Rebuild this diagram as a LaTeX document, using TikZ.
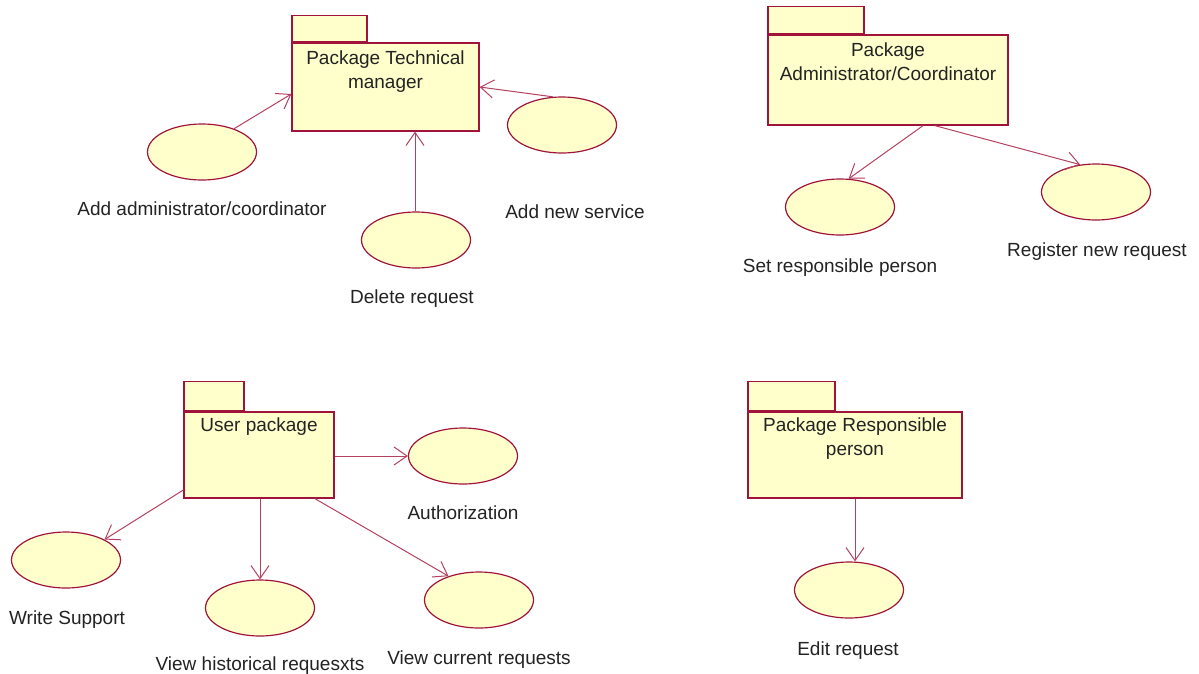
\documentclass[tikz,border=0pt]{standalone}
\usepackage{fontspec}
\setmainfont{Liberation Sans}
\usetikzlibrary{arrows.meta,shapes.geometric}
\definecolor{pkgfill}{RGB}{255,255,204}
\definecolor{pkgdraw}{RGB}{160,20,60}
\definecolor{arrowc}{RGB}{180,65,95}
\definecolor{txt}{RGB}{35,35,35}
\begin{document}
\begin{tikzpicture}[x=1pt,y=-1pt,
  font=\fontsize{19}{24}\selectfont,
  pkgbody/.style={rectangle, draw=pkgdraw, fill=pkgfill, line width=1.3pt, inner sep=0pt},
  pkgtab/.style={rectangle, draw=pkgdraw, fill=pkgfill, line width=1.3pt, inner sep=0pt, anchor=south west},
  usecase/.style={ellipse, draw=pkgdraw, fill=pkgfill, line width=1.2pt, minimum width=109pt, minimum height=56pt, inner sep=0pt},
  pkgtext/.style={text=txt, inner sep=0pt, align=center, anchor=north},
  lbl/.style={text=txt, inner sep=0pt, anchor=base},
  dep/.style={draw=arrowc, line width=1pt, -{Straight Barb[length=13pt,width=18pt,line width=1pt]}}
]
\fill[white] (0,0) rectangle (1199,673);
\useasboundingbox (0,0) rectangle (1199,673);

% Package Technical manager
\node[pkgbody, minimum width=187pt, minimum height=88pt] (tm) at (385.5,87) {};
\node[pkgtab, minimum width=75pt, minimum height=26pt] (tmtab) at (tm.north west) {};
\node[pkgtext] (tmt) at (385.5,51) {Package Technical\\manager};

% Package Administrator/Coordinator
\node[pkgbody, minimum width=240pt, minimum height=90pt] (ac) at (888,80) {};
\node[pkgtab, minimum width=96pt, minimum height=27pt] (actab) at (ac.north west) {};
\node[pkgtext] (act) at (888,43) {Package\\Administrator/Coordinator};

% User package
\node[pkgbody, minimum width=150pt, minimum height=86pt] (up) at (259,455) {};
\node[pkgtab, minimum width=60pt, minimum height=29pt] (uptab) at (up.north west) {};
\node[pkgtext] (upt) at (259,418) {User package};

% Package Responsible person
\node[pkgbody, minimum width=214pt, minimum height=86pt] (rp) at (855,455) {};
\node[pkgtab, minimum width=87pt, minimum height=29pt] (rptab) at (rp.north west) {};
\node[pkgtext] (rpt) at (855,418) {Package Responsible\\person};

% Use cases
\node[usecase] (adda) at (202,152) {};
\node[usecase] (del) at (416,240) {};
\node[usecase] (ans) at (562,125) {};
\node[usecase] (srp) at (840,207) {};
\node[usecase] (rnr) at (1096,192) {};
\node[usecase] (auth) at (463,456) {};
\node[usecase] (ws) at (66,560) {};
\node[usecase] (vh) at (260,608) {};
\node[usecase] (vc) at (479,600) {};
\node[usecase] (er) at (849,590) {};

% Labels
\node[lbl] (ladda) at (202,215) {Add administrator/coordinator};
\node[lbl] (ldel) at (412,303) {Delete request};
\node[lbl] (lans) at (575,218) {Add new service};
\node[lbl] (lsrp) at (840,272) {Set responsible person};
\node[lbl] (lrnr) at (1097,256) {Register new request};
\node[lbl] (lauth) at (463,519) {Authorization};
\node[lbl] (lws) at (67,624) {Write Support};
\node[lbl] (lvh) at (260,670) {View historical requesxts};
\node[lbl] (lvc) at (479,664) {View current requests};
\node[lbl] (ler) at (848,655) {Edit request};

% Dependencies
\draw[dep] ([xshift=-1pt]del.north) -- ([xshift=-1pt]del.north |- tm.south);
\draw[dep] (adda.36) -- ([yshift=-7pt]tm.west);
\draw[dep] (ans.108) -- (tm.east);
\draw[dep] ([xshift=35pt]ac.south) -- (srp.73);
\draw[dep] ([xshift=47pt]ac.south) -- (rnr.120);
\draw[dep] (up.east |- auth.west) -- (auth.west);
\draw[dep] ([yshift=-35pt]up.west) -- (ws.28);
\draw[dep] (up.south -| vh.north) -- (vh.north);
\draw[dep] ([xshift=56pt]up.south) -- (vc.142);
\draw[dep] (rp.south) -- (rp.south |- er.north);
\end{tikzpicture}
\end{document}
